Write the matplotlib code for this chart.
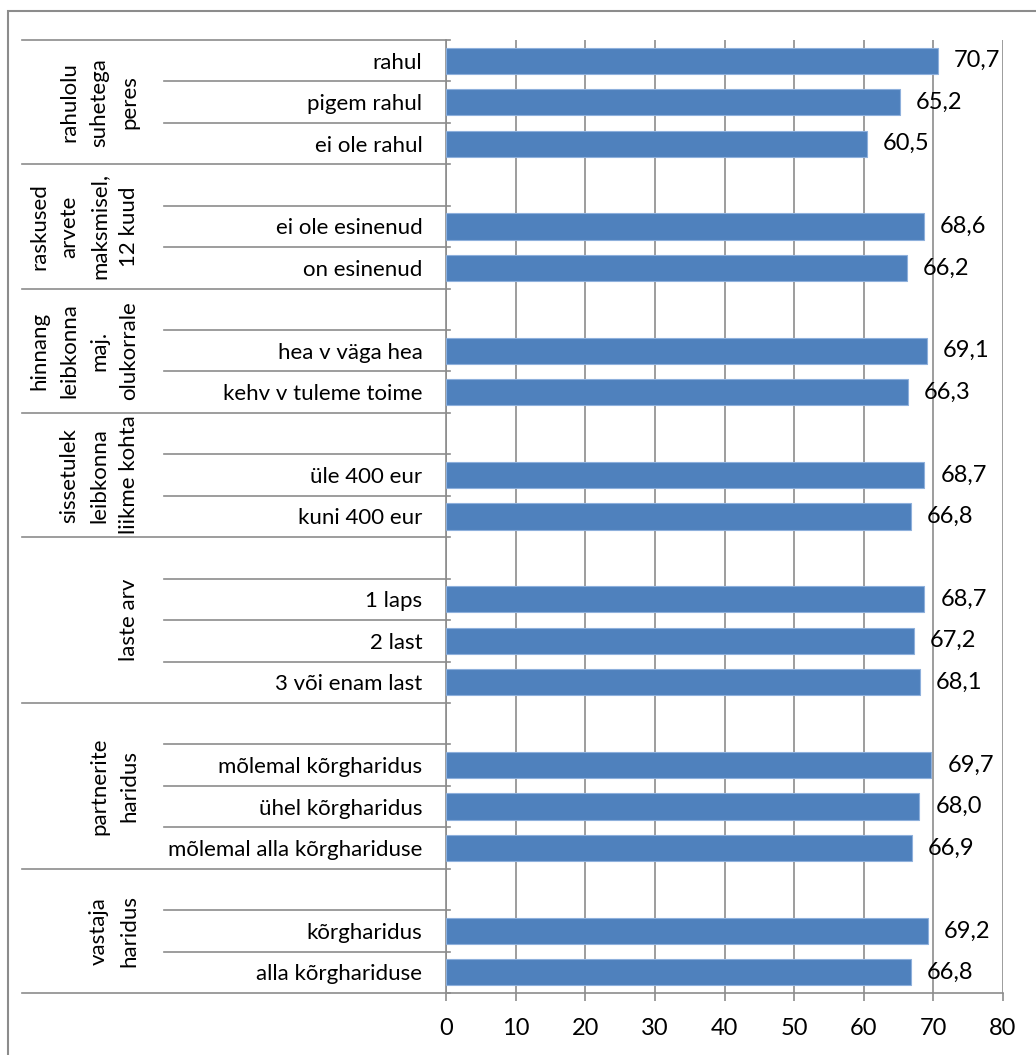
import matplotlib

matplotlib.use("Agg")
import matplotlib.pyplot as plt
import matplotlib.transforms as mtransforms
import numpy as np
from matplotlib.patches import Rectangle

# kategooriad ülevalt alla; tühi rida = rühma vahe
categories = [
    "rahul", "pigem rahul", "ei ole rahul",
    "", "ei ole esinenud", "on esinenud",
    "", "hea v väga hea", "kehv v tuleme toime",
    "", "üle 400 eur", "kuni 400 eur",
    "", "1 laps", "2 last", "3 või enam last",
    "", "mõlemal kõrgharidus", "ühel kõrgharidus", "mõlemal alla kõrghariduse",
    "", "kõrgharidus", "alla kõrghariduse",
]
values = [
    70.7, 65.2, 60.5,
    None, 68.6, 66.2,
    None, 69.1, 66.3,
    None, 68.7, 66.8,
    None, 68.7, 67.2, 68.1,
    None, 69.7, 68.0, 66.9,
    None, 69.2, 66.8,
]
group_names = [
    "rahulolu\nsuhetega\nperes",
    "raskused\narvete\nmaksmisel,\n12 kuud",
    "hinnang\nleibkonna\nmaj.\nolukorrale",
    "sissetulek\nleibkonna\nliikme kohta",
    "laste arv",
    "partnerite\nharidus",
    "vastaja\nharidus",
]
group_sizes = [3, 3, 3, 3, 4, 4, 3]
x_ticks = [0, 10, 20, 30, 40, 50, 60, 70, 80]

BAR = "#4F81BD"
GRID = "#8C8C8C"
FONT = ["Lato", "DejaVu Sans"]

W, H = 1036, 1055
fig = plt.figure(figsize=(W / 100, H / 100), dpi=100)
ax = fig.add_axes([446 / W, 1 - 993 / H, (1003 - 446) / W, (993 - 40) / H])

n = len(categories)
y = np.arange(n)
vals = np.array([np.nan if v is None else v for v in values])
ax.barh(y, vals, height=0.63, color=BAR, edgecolor="#8EB0DC", linewidth=0.8, zorder=3)

# väärtuste sildid tulpade järel
offset = mtransforms.offset_copy(ax.transData, fig=fig, x=16, y=0, units="dots")
for yi, v in zip(y, values):
    if v is None:
        continue
    ax.text(v, yi, f"{v:.1f}".replace(".", ","), transform=offset,
            ha="left", va="center", fontsize=17, family=FONT, zorder=4)

ax.set_xlim(0, 80)
ax.set_ylim(n - 0.5, -0.5)
ax.set_xticks(x_ticks)
ax.set_xticklabels([str(t) for t in x_ticks], fontsize=17, family=FONT)
ax.tick_params(axis="x", length=6, color=GRID, width=1.2, pad=12)
ax.set_yticks(y)
ax.set_yticklabels(categories, fontsize=16, family=FONT)
ax.tick_params(axis="y", length=0, pad=17)
ax.xaxis.grid(True, color=GRID, linewidth=1.2, zorder=0)
ax.set_axisbelow(True)
for side in ("top", "right"):
    ax.spines[side].set_visible(False)
for side in ("left", "bottom"):
    ax.spines[side].set_color(GRID)
    ax.spines[side].set_linewidth(1.2)

# mitmetasemelise telje jooned vasakul
tr = mtransforms.blended_transform_factory(fig.transFigure, ax.transData)
x_axis = 446 / W
bounds = np.cumsum([0] + group_sizes) - 0.5
for b in np.arange(n + 1) - 0.5:
    x0 = 22 / W if b in bounds else 164 / W
    ax.plot([x0, x_axis + 4 / W], [b, b], color=GRID, linewidth=1.2,
            transform=tr, clip_on=False, zorder=5)

# rühmade nimed püstiselt
for name, lo, hi in zip(group_names, bounds[:-1], bounds[1:]):
    ax.text(139 / W, (lo + hi) / 2, name, transform=tr, rotation=90,
            ha="right", va="center", multialignment="center",
            fontsize=16, family=FONT, linespacing=1.62)

# joonise raam
fig.patches.append(Rectangle((8 / W, -0.1), 1.2, 1.1 - 11 / H,
                             transform=fig.transFigure, fill=False,
                             edgecolor=GRID, linewidth=1.5))

fig.savefig("out.png", dpi=100)
